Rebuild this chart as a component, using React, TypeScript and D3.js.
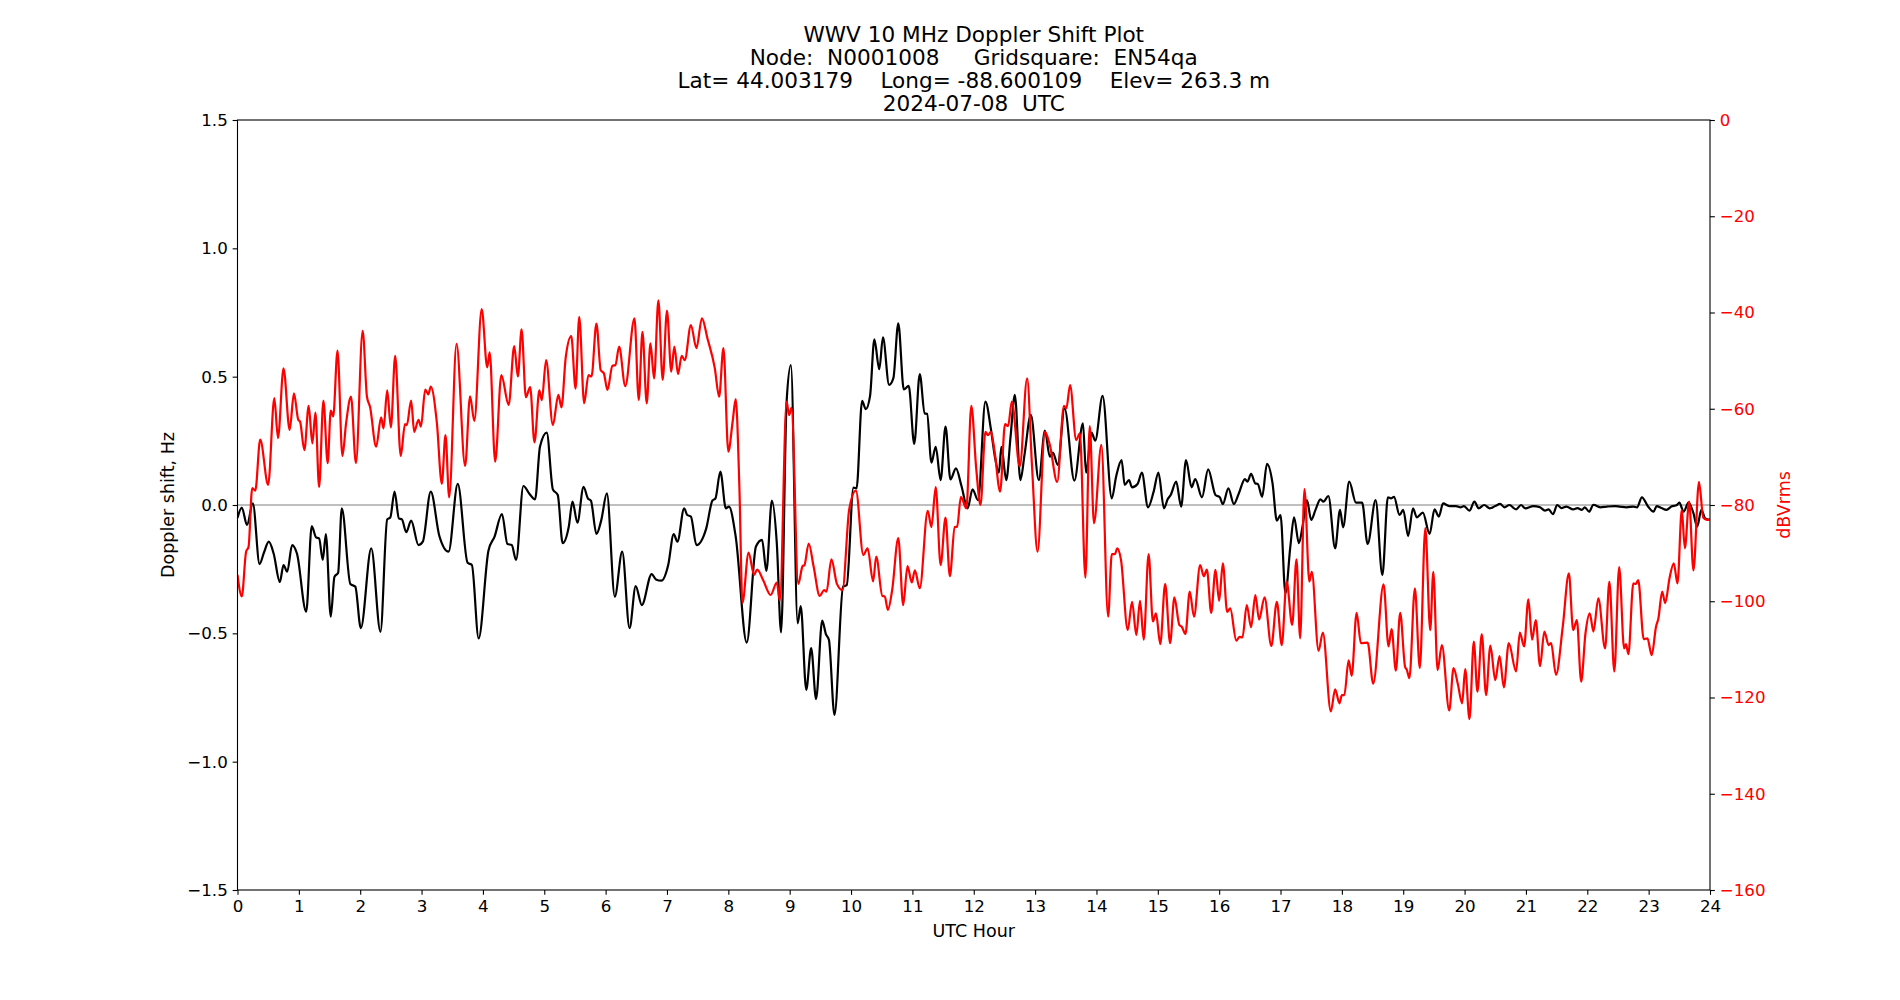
import React, { useEffect, useRef } from "react";
import * as d3 from "d3";

// title block
const titleLines = [
  "WWV 10 MHz Doppler Shift Plot",
  "Node:  N0001008     Gridsquare:  EN54qa",
  "Lat= 44.003179    Long= -88.600109    Elev= 263.3 m",
  "2024-07-08  UTC",
];

const hourTicks = [0, 1, 2, 3, 4, 5, 6, 7, 8, 9, 10, 11, 12, 13, 14, 15, 16, 17, 18, 19, 20, 21, 22, 23, 24];
const hzTicks = [-1.5, -1.0, -0.5, 0.0, 0.5, 1.0, 1.5];
const dbTicks = [0, -20, -40, -60, -80, -100, -120, -140, -160];

// [UTC hour, Doppler shift Hz]
const dopplerTrace: [number, number][] = [
  [0.0, -0.05], [0.07, -0.01], [0.155, -0.078], [0.25, 0.006], [0.36, -0.23], [0.43, -0.186],
  [0.51, -0.143], [0.59, -0.19], [0.69, -0.3], [0.75, -0.234], [0.81, -0.26], [0.89, -0.156],
  [0.97, -0.19], [1.12, -0.416], [1.21, -0.082], [1.28, -0.126], [1.33, -0.13], [1.39, -0.214],
  [1.44, -0.113], [1.52, -0.435], [1.58, -0.28], [1.64, -0.264], [1.7, -0.013], [1.84, -0.308],
  [1.92, -0.318], [2.01, -0.48], [2.18, -0.169], [2.33, -0.494], [2.44, -0.056], [2.49, -0.049],
  [2.56, 0.052], [2.63, -0.052], [2.68, -0.056], [2.75, -0.106], [2.83, -0.061], [2.95, -0.156],
  [3.02, -0.143], [3.15, 0.052], [3.29, -0.121], [3.44, -0.182], [3.59, 0.082], [3.75, -0.225],
  [3.82, -0.234], [3.93, -0.52], [4.09, -0.178], [4.19, -0.123], [4.31, -0.035], [4.4, -0.152],
  [4.47, -0.156], [4.54, -0.214], [4.66, 0.074], [4.76, 0.043], [4.85, 0.022], [4.93, 0.227],
  [5.04, 0.282], [5.14, 0.061], [5.22, 0.039], [5.3, -0.149], [5.4, -0.084], [5.46, 0.013],
  [5.54, -0.069], [5.64, 0.071], [5.71, 0.026], [5.76, 0.017], [5.85, -0.113], [5.93, -0.058],
  [6.02, 0.045], [6.15, -0.357], [6.27, -0.182], [6.39, -0.48], [6.49, -0.316], [6.59, -0.39],
  [6.75, -0.269], [6.82, -0.29], [6.91, -0.295], [7.02, -0.234], [7.11, -0.113], [7.17, -0.143],
  [7.28, -0.013], [7.33, -0.039], [7.39, -0.045], [7.48, -0.156], [7.64, -0.091], [7.74, 0.017],
  [7.79, 0.026], [7.87, 0.13], [7.96, -0.013], [8.01, -0.006], [8.12, -0.123], [8.3, -0.536],
  [8.45, -0.162], [8.55, -0.136], [8.62, -0.257], [8.71, 0.017], [8.79, -0.149], [8.86, -0.496],
  [8.95, 0.403], [9.02, 0.545], [9.13, -0.461], [9.18, -0.394], [9.27, -0.72], [9.35, -0.558],
  [9.43, -0.756], [9.53, -0.45], [9.59, -0.503], [9.64, -0.526], [9.73, -0.818], [9.87, -0.318],
  [9.93, -0.312], [10.04, 0.068], [10.09, 0.065], [10.18, 0.406], [10.24, 0.373], [10.31, 0.425],
  [10.38, 0.645], [10.46, 0.529], [10.52, 0.653], [10.62, 0.468], [10.69, 0.494], [10.77, 0.708],
  [10.86, 0.45], [10.94, 0.464], [11.03, 0.238], [11.12, 0.51], [11.2, 0.357], [11.24, 0.355],
  [11.31, 0.165], [11.38, 0.227], [11.46, 0.097], [11.54, 0.305], [11.62, 0.1], [11.71, 0.143],
  [11.8, 0.074], [11.9, -0.013], [11.98, 0.061], [12.07, 0.019], [12.19, 0.403], [12.28, 0.295],
  [12.34, 0.195], [12.41, 0.126], [12.45, 0.227], [12.53, 0.097], [12.6, 0.266], [12.67, 0.429],
  [12.76, 0.097], [12.83, 0.2], [12.93, 0.351], [13.06, 0.097], [13.16, 0.29], [13.24, 0.188],
  [13.29, 0.204], [13.37, 0.156], [13.48, 0.377], [13.64, 0.095], [13.78, 0.318], [13.83, 0.126],
  [13.92, 0.282], [13.98, 0.251], [14.1, 0.425], [14.25, 0.026], [14.32, 0.11], [14.41, 0.175],
  [14.46, 0.078], [14.53, 0.097], [14.58, 0.069], [14.67, 0.082], [14.74, 0.126], [14.84, -0.009],
  [14.93, 0.05], [15.01, 0.126], [15.1, -0.013], [15.16, 0.022], [15.21, 0.039], [15.3, 0.091],
  [15.38, -0.006], [15.46, 0.175], [15.55, 0.069], [15.61, 0.101], [15.72, 0.03], [15.82, 0.139],
  [15.94, 0.039], [16.01, 0.03], [16.06, 0.004], [16.15, 0.065], [16.24, 0.004], [16.32, 0.045],
  [16.42, 0.101], [16.46, 0.091], [16.52, 0.121], [16.59, 0.084], [16.63, 0.082], [16.7, 0.032],
  [16.78, 0.16], [16.87, 0.084], [16.94, -0.061], [17.0, -0.039], [17.08, -0.344], [17.16, -0.162],
  [17.22, -0.048], [17.3, -0.149], [17.36, -0.082], [17.43, 0.019], [17.5, -0.058], [17.57, -0.019],
  [17.65, 0.022], [17.7, 0.013], [17.78, 0.035], [17.89, -0.169], [17.97, -0.019], [18.02, -0.087],
  [18.12, 0.091], [18.23, 0.009], [18.33, 0.009], [18.42, -0.152], [18.55, 0.019], [18.66, -0.273],
  [18.75, 0.03], [18.8, 0.026], [18.85, 0.032], [18.94, -0.039], [19.0, -0.019], [19.08, -0.121],
  [19.16, -0.013], [19.22, -0.048], [19.32, -0.03], [19.43, -0.113], [19.51, -0.017], [19.58, -0.045],
  [19.65, 0.006], [19.75, -0.004], [19.86, -0.004], [19.94, -0.009], [19.99, -0.004], [20.08, -0.022],
  [20.16, 0.013], [20.23, -0.013], [20.32, 0.0], [20.41, -0.013], [20.5, -0.004], [20.58, 0.004],
  [20.65, -0.009], [20.73, 0.0], [20.84, -0.017], [20.92, 0.0], [20.99, -0.013], [21.12, -0.004],
  [21.23, -0.009], [21.31, -0.022], [21.37, -0.017], [21.44, -0.036], [21.51, 0.0], [21.58, -0.012],
  [21.66, -0.006], [21.77, -0.017], [21.84, -0.012], [21.91, -0.019], [21.96, -0.009], [22.03, -0.026],
  [22.1, 0.001], [22.21, -0.009], [22.32, -0.006], [22.45, -0.004], [22.53, -0.006], [22.64, -0.009],
  [22.75, -0.006], [22.81, -0.009], [22.89, 0.03], [22.99, -0.006], [23.08, -0.026], [23.13, -0.004],
  [23.21, -0.012], [23.29, -0.019], [23.37, -0.006], [23.46, 0.0], [23.5, 0.009], [23.57, -0.026],
  [23.65, 0.009], [23.73, -0.032], [23.79, -0.084], [23.86, -0.019], [23.92, -0.052], [24.0, -0.058],
];

// [UTC hour, signal level dBVrms]
const powerTrace: [number, number][] = [
  [0.0, -94.5], [0.07, -99], [0.14, -89.7], [0.18, -88.7], [0.24, -76.5], [0.29, -77], [0.37, -66.4],
  [0.5, -75.8], [0.6, -57.8], [0.66, -66.1], [0.75, -51.6], [0.85, -64.4], [0.92, -56.8], [0.99, -62.3],
  [1.02, -62.7], [1.09, -68.6], [1.16, -59.4], [1.22, -67.2], [1.27, -60.8], [1.33, -76.3], [1.4, -58.3],
  [1.47, -71.3], [1.52, -60.4], [1.56, -61.6], [1.63, -47.9], [1.71, -69.8], [1.77, -63], [1.85, -57.5],
  [1.93, -71.3], [2.04, -43.8], [2.11, -57.5], [2.16, -59.6], [2.26, -67.9], [2.34, -61.8], [2.38, -64.1],
  [2.44, -56.2], [2.5, -63.9], [2.57, -49], [2.66, -69.8], [2.73, -63.2], [2.76, -63.4], [2.83, -58.3],
  [2.88, -64.8], [2.95, -62.3], [2.99, -63.7], [3.06, -56], [3.11, -57], [3.15, -55.4], [3.25, -63],
  [3.33, -75.6], [3.39, -65.5], [3.45, -78.4], [3.57, -46.5], [3.71, -71.9], [3.79, -57.4], [3.86, -62.5],
  [3.98, -39.3], [4.07, -51.4], [4.11, -48.3], [4.2, -71], [4.3, -53], [4.42, -59.2], [4.51, -47],
  [4.57, -53.3], [4.63, -43.5], [4.7, -57.6], [4.77, -55.5], [4.84, -67], [4.92, -56.2], [4.96, -58.2],
  [5.03, -49.9], [5.14, -63.4], [5.23, -57.1], [5.28, -59.7], [5.35, -49.3], [5.44, -44.9], [5.51, -55.8],
  [5.57, -40.9], [5.65, -58.9], [5.72, -53], [5.77, -53.3], [5.85, -42.3], [5.92, -52], [5.97, -52.6],
  [6.03, -56.1], [6.11, -51.1], [6.16, -50.9], [6.22, -47.1], [6.32, -55.3], [6.47, -41.2], [6.54, -58.2],
  [6.6, -44], [6.67, -58.9], [6.73, -46.4], [6.79, -53.7], [6.86, -37.5], [6.93, -54], [7.0, -39.6],
  [7.07, -52.3], [7.12, -47.1], [7.18, -52.8], [7.24, -49], [7.29, -49.9], [7.39, -42.6], [7.48, -47.4],
  [7.57, -41.2], [7.66, -45.4], [7.78, -51.6], [7.85, -57.5], [7.92, -47.4], [8.0, -68.9], [8.07, -62.7],
  [8.12, -58], [8.18, -76.2], [8.23, -100.3], [8.33, -89.9], [8.42, -94.5], [8.47, -93.4], [8.57, -95.7],
  [8.69, -98.7], [8.79, -96.1], [8.84, -99.9], [8.95, -58.5], [8.99, -61.3], [9.03, -59.8], [9.14, -96.4],
  [9.21, -92.7], [9.24, -92.5], [9.31, -88], [9.39, -92.8], [9.49, -98.9], [9.56, -97.7], [9.6, -98],
  [9.68, -91.3], [9.77, -96.4], [9.86, -97.7], [9.97, -80.9], [10.08, -77], [10.2, -90.4], [10.27, -89],
  [10.36, -95.9], [10.41, -90.7], [10.51, -98.9], [10.55, -99], [10.6, -101.8], [10.67, -97.7], [10.77, -86.9],
  [10.85, -100.8], [10.92, -92.7], [10.99, -96.1], [11.04, -93.6], [11.12, -97.3], [11.25, -81.2], [11.31, -84.6],
  [11.38, -76.3], [11.46, -92.5], [11.54, -82.6], [11.61, -94.8], [11.69, -84.6], [11.73, -84.5], [11.79, -78.3],
  [11.88, -80.7], [11.96, -59.4], [12.04, -72.4], [12.11, -80], [12.19, -64.8], [12.23, -65.5], [12.28, -64.8],
  [12.34, -68.9], [12.43, -77.2], [12.51, -63.2], [12.56, -63.6], [12.62, -58.5], [12.75, -72], [12.87, -53.7],
  [12.95, -72], [13.04, -89.7], [13.16, -64.8], [13.24, -67.5], [13.36, -75.2], [13.47, -59.4], [13.51, -59.9],
  [13.57, -55.1], [13.67, -66.5], [13.73, -65.1], [13.82, -95.1], [13.89, -63.6], [13.96, -83.8], [14.08, -67.5],
  [14.19, -103.2], [14.25, -90.2], [14.3, -90.2], [14.34, -89], [14.4, -91.4], [14.51, -106], [14.58, -100.1],
  [14.65, -107], [14.71, -99.9], [14.77, -108], [14.85, -90.2], [14.92, -104.2], [14.97, -102.5], [15.04, -108.9],
  [15.12, -96.4], [15.2, -108.7], [15.27, -99.2], [15.35, -104.9], [15.39, -105.3], [15.45, -106.8], [15.52, -98],
  [15.59, -103.2], [15.69, -92.5], [15.75, -94.8], [15.8, -93.4], [15.87, -102.4], [15.94, -93.5], [16.0, -99.9],
  [16.06, -92.1], [16.13, -102.2], [16.18, -101.5], [16.28, -108.2], [16.33, -107.4], [16.38, -107.5], [16.45, -100.8],
  [16.52, -105.4], [16.59, -98.7], [16.65, -103.8], [16.74, -99.2], [16.85, -109.3], [16.94, -100.1], [17.02, -109.1],
  [17.1, -95.9], [17.19, -104.9], [17.26, -91.3], [17.32, -107.7], [17.39, -76.7], [17.47, -95.9], [17.51, -93.9],
  [17.62, -110.3], [17.69, -106.5], [17.82, -122.9], [17.89, -118.3], [17.96, -121.2], [18.0, -119.5], [18.04, -119.5],
  [18.11, -112.3], [18.16, -115.5], [18.24, -102.4], [18.31, -108.7], [18.42, -108.6], [18.51, -117.1], [18.68, -96.5],
  [18.76, -109.4], [18.81, -105.8], [18.88, -114.4], [18.95, -102.4], [19.03, -113.6], [19.06, -114.3], [19.1, -116],
  [19.19, -97.3], [19.27, -113.9], [19.36, -84.8], [19.44, -106], [19.49, -93.9], [19.56, -114.3], [19.63, -109.1],
  [19.75, -122.7], [19.82, -113.9], [19.89, -117.2], [19.96, -121.2], [20.01, -114.1], [20.08, -124.5], [20.15, -108.4],
  [20.21, -118.8], [20.28, -106.8], [20.35, -119.5], [20.42, -109.2], [20.5, -116.4], [20.57, -111.4], [20.64, -117.9],
  [20.72, -108.7], [20.84, -114.6], [20.9, -106.5], [20.97, -109.4], [21.04, -99.6], [21.1, -108], [21.16, -103.9],
  [21.23, -113.5], [21.3, -106.3], [21.37, -109.1], [21.41, -108.7], [21.49, -115.3], [21.6, -105.3], [21.7, -94.2],
  [21.77, -106], [21.83, -103.9], [21.9, -116.7], [21.97, -106.7], [22.04, -102.5], [22.1, -106.3], [22.18, -99.4],
  [22.29, -109.8], [22.36, -95.9], [22.44, -114.6], [22.52, -92.9], [22.6, -109.8], [22.63, -108.9], [22.67, -111],
  [22.75, -96.3], [22.79, -96.4], [22.83, -95.6], [22.92, -107.9], [22.98, -107.7], [23.05, -111.2], [23.12, -105.3],
  [23.16, -103.5], [23.22, -98], [23.27, -100.4], [23.34, -95.2], [23.41, -92.1], [23.47, -96.3], [23.54, -81],
  [23.59, -89], [23.66, -79.3], [23.73, -93.6], [23.82, -75.2], [23.89, -82.6], [23.95, -83.1], [24.0, -83.1],
];

const FONT = "DejaVu Sans, sans-serif";
const minus = (s: string) => s.replace("-", "\u2212");

const App = () => {
  const d3Container = useRef<SVGSVGElement>(null);

  useEffect(() => {
    if (!d3Container.current) return;
    const root = d3.select(d3Container.current);
    root.selectAll("*").remove();

    const W = 1900;
    const H = 1000;
    const margin = { top: 120, right: 190, bottom: 110, left: 237.5 };
    const width = W - margin.left - margin.right;
    const height = H - margin.top - margin.bottom;
    const tick = 4.86;

    root.attr("width", W).attr("height", H);
    root.append("rect").attr("width", W).attr("height", H).attr("fill", "white");

    const svg = root.append("g").attr("transform", `translate(${margin.left},${margin.top})`);

    const x = d3.scaleLinear().domain([0, 24]).range([0, width]);
    const yHz = d3.scaleLinear().domain([-1.5, 1.5]).range([height, 0]);
    const yDb = d3.scaleLinear().domain([-160, 0]).range([height, 0]);

    svg.append("clipPath").attr("id", "plotclip")
      .append("rect").attr("width", width).attr("height", height);

    // zero reference
    svg.append("line")
      .attr("x1", 0).attr("x2", width)
      .attr("y1", yHz(0)).attr("y2", yHz(0))
      .attr("stroke", "#808080").attr("stroke-width", 1.1);

    const hzLine = d3.line<[number, number]>()
      .x((d) => x(d[0]))
      .y((d) => yHz(d[1]))
      .curve(d3.curveMonotoneX);
    const dbLine = d3.line<[number, number]>()
      .x((d) => x(d[0]))
      .y((d) => yDb(d[1]))
      .curve(d3.curveMonotoneX);

    const lines = svg.append("g").attr("clip-path", "url(#plotclip)");
    lines.append("path").datum(dopplerTrace)
      .attr("fill", "none").attr("stroke", "black").attr("stroke-width", 2.2)
      .attr("stroke-linejoin", "round").attr("d", hzLine);
    lines.append("path").datum(powerTrace)
      .attr("fill", "none").attr("stroke", "red").attr("stroke-width", 2.2)
      .attr("stroke-linejoin", "round").attr("d", dbLine);

    // axes
    const styleAxis = (g: any, color: string) => {
      g.select(".domain").remove();
      g.selectAll("line").attr("stroke", "black").attr("stroke-width", 1.1);
      g.selectAll("text").attr("fill", color).attr("font-family", FONT).attr("font-size", 16.7);
    };

    svg.append("g").attr("transform", `translate(0,${height})`)
      .call(d3.axisBottom(x).tickValues(hourTicks).tickFormat((d) => `${d}`)
        .tickSize(tick).tickPadding(tick))
      .call((g) => styleAxis(g, "black"));

    svg.append("g")
      .call(d3.axisLeft(yHz).tickValues(hzTicks).tickFormat((d) => minus(d3.format(".1f")(d as number)))
        .tickSize(tick).tickPadding(tick))
      .call((g) => styleAxis(g, "black"));

    svg.append("g").attr("transform", `translate(${width},0)`)
      .call(d3.axisRight(yDb).tickValues(dbTicks).tickFormat((d) => minus(`${d}`))
        .tickSize(tick).tickPadding(tick))
      .call((g) => styleAxis(g, "red"));

    // frame
    svg.append("rect")
      .attr("width", width).attr("height", height)
      .attr("fill", "none").attr("stroke", "black").attr("stroke-width", 1.1);

    // axis labels
    svg.append("text")
      .attr("x", width / 2).attr("y", height + 47)
      .attr("text-anchor", "middle").attr("font-family", FONT).attr("font-size", 17.5)
      .text("UTC Hour");
    svg.append("text")
      .attr("transform", `translate(${-64},${height / 2}) rotate(-90)`)
      .attr("text-anchor", "middle").attr("font-family", FONT).attr("font-size", 17.5)
      .text("Doppler shift, Hz");
    svg.append("text")
      .attr("transform", `translate(${width + 80},${height / 2}) rotate(-90)`)
      .attr("text-anchor", "middle").attr("font-family", FONT).attr("font-size", 17.5)
      .attr("fill", "red")
      .text("dBVrms");

    // title
    root.append("g")
      .selectAll("text")
      .data(titleLines)
      .enter()
      .append("text")
      .attr("x", margin.left + width / 2)
      .attr("y", (d, i) => 42 + i * 23)
      .attr("text-anchor", "middle")
      .attr("font-family", FONT)
      .attr("font-size", 21.6)
      .style("white-space", "pre")
      .text((d) => d);
  }, []);

  return (
    <svg
      ref={d3Container}
      style={{ position: "absolute", left: 0, top: 0, display: "block" }}
    />
  );
};

export default App;
